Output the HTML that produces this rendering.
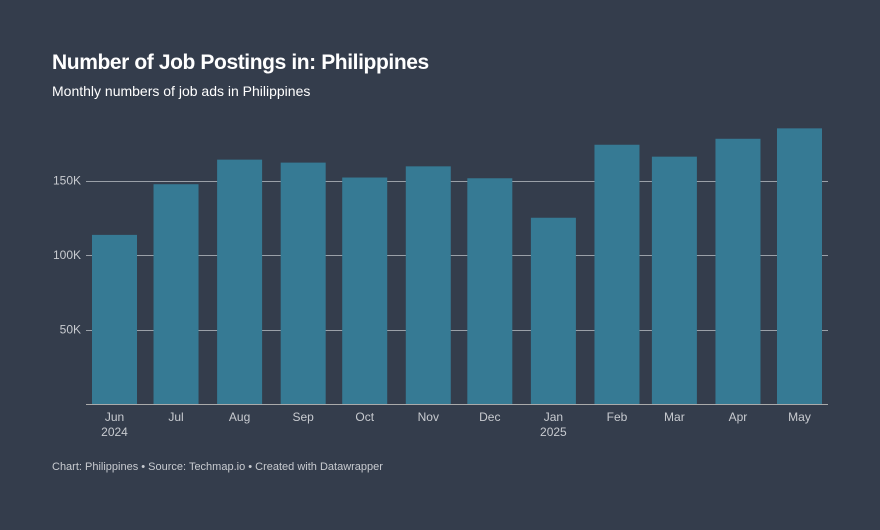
<!DOCTYPE html>
<html><head><meta charset="utf-8"><style>
html,body{margin:0;background:#343d4c;width:880px;height:530px;overflow:hidden;font-family:"Liberation Sans",Arial,sans-serif}
svg{display:block}
</style></head><body>
<svg width="880" height="530" xmlns="http://www.w3.org/2000/svg">
<rect width="880" height="530" fill="#343d4c"/>
<text x="52" y="69" fill="#fff" font-size="21" font-weight="bold" letter-spacing="-0.4">Number of Job Postings in: Philippines</text>
<text x="52" y="96" fill="#fff" font-size="14">Monthly numbers of job ads in Philippines</text>
<g id="grid"></g><g id="bars"></g><g id="xl"></g>
<line x1="86" x2="828" y1="404.5" y2="404.5" stroke="#aaa" stroke-width="1"/>
<text x="52" y="470" fill="#c8cbd0" font-size="11">Chart: Philippines • Source: Techmap.io • Created with Datawrapper</text>
</svg>
<script>
const months=["Jun","Jul","Aug","Sep","Oct","Nov","Dec","Jan","Feb","Mar","Apr","May"];
const years=["2024","","","","","","","2025","","","",""];
const dates=["2024-06-01","2024-07-01","2024-08-01","2024-09-01","2024-10-01","2024-11-01","2024-12-01","2025-01-01","2025-02-01","2025-03-01","2025-04-01","2025-05-01"];
const values=[113500,147500,164000,162000,152000,159500,151500,125000,174000,166000,178000,185000];
const yTicks=[50000,100000,150000];
const yTickLabels=["50K","100K","150K"];
const NS="http://www.w3.org/2000/svg";
const d0=Date.parse(dates[0]),d1=Date.parse(dates[dates.length-1]);
function x(d){return 114.5+(Date.parse(d)-d0)/(d1-d0)*685;}
function y(v){return 404-v/50000*74.5;}
function mk(t,a,p){const e=document.createElementNS(NS,t);for(const k in a)e.setAttribute(k,a[k]);p.appendChild(e);return e;}
const g=document.getElementById('grid');
yTicks.forEach((t,i)=>{
 const l=mk('line',{x1:86,x2:828,y1:Math.round(y(t))+0.5,y2:Math.round(y(t))+0.5,stroke:'#9aa0a8','stroke-width':1},g);
 
 
 const tx=mk('text',{x:81,y:y(t)+4,'text-anchor':'end',fill:'#c8cbd0','font-size':12},g);tx.textContent=yTickLabels[i];
 
 
});
const b=document.getElementById('bars'),xl=document.getElementById('xl');
values.forEach((v,i)=>{
 const cx=x(dates[i]);
 const r=mk('rect',{x:cx-22.5,y:y(v),width:45,height:404-y(v),fill:'#367a94'},b);
 
 
 const t=mk('text',{x:cx,y:421,'text-anchor':'middle',fill:'#c8cbd0','font-size':12},xl);t.textContent=months[i];
 
 
 if(years[i]){const t2=mk('text',{x:cx,y:436,'text-anchor':'middle',fill:'#c8cbd0','font-size':12},xl);t2.textContent=years[i];
 
 }
});
</script>
</body></html>
